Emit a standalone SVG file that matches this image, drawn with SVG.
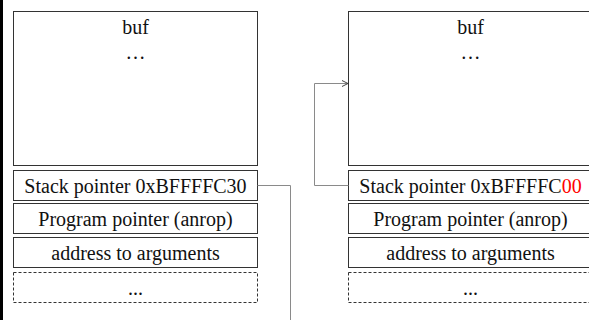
<svg xmlns="http://www.w3.org/2000/svg" width="589" height="320" viewBox="0 0 589 320">
  <style>
    .box { fill: #ffffff; stroke: #333333; stroke-width: 1; }
    .dashed { fill: #ffffff; stroke: #333333; stroke-width: 1; stroke-dasharray: 3 2; }
    .label { font-family: "Liberation Serif", "Times New Roman", serif; font-size: 20px; fill: #111111; text-anchor: middle; }
    .link { fill: none; stroke: #8a8a8a; stroke-width: 1; }
    .hl { fill: #ff0000; }
  </style>
  <defs>
    <marker id="open-arrow" markerWidth="8" markerHeight="8" refX="7" refY="4" orient="auto" markerUnits="userSpaceOnUse">
      <path d="M1,1 L7,4 L1,7" fill="none" stroke="#444444" stroke-width="1"/>
    </marker>
  </defs>

  <rect x="0" y="0" width="3" height="320" fill="#000000"/>

  <!-- left stack frame -->
  <g id="left-buf">
    <rect class="box" x="13.5" y="11.5" width="244" height="154"/>
    <text class="label" x="135.5" y="34">buf</text>
    <text class="label" x="135.5" y="59">…</text>
  </g>
  <g id="left-sp">
    <rect class="box" x="13.5" y="170.5" width="244" height="30"/>
    <text class="label" x="135.5" y="193">Stack pointer 0xBFFFFC30</text>
  </g>
  <g id="left-pp">
    <rect class="box" x="13.5" y="203.5" width="244" height="30"/>
    <text class="label" x="135.5" y="226">Program pointer (anrop)</text>
  </g>
  <g id="left-args">
    <rect class="box" x="13.5" y="237.5" width="244" height="30"/>
    <text class="label" x="135.5" y="260">address to arguments</text>
  </g>
  <g id="left-more">
    <rect class="dashed" x="13.5" y="272.5" width="244" height="30"/>
    <text class="label" x="135.5" y="295">...</text>
  </g>

  <!-- right stack frame -->
  <g id="right-buf">
    <rect class="box" x="348.5" y="11.5" width="244" height="154"/>
    <text class="label" x="470.5" y="34">buf</text>
    <text class="label" x="470.5" y="59">…</text>
  </g>
  <g id="right-sp">
    <rect class="box" x="348.5" y="170.5" width="244" height="30"/>
    <text class="label" x="470.5" y="193">Stack pointer 0xBFFFFC<tspan class="hl">00</tspan></text>
  </g>
  <g id="right-pp">
    <rect class="box" x="348.5" y="203.5" width="244" height="30"/>
    <text class="label" x="470.5" y="226">Program pointer (anrop)</text>
  </g>
  <g id="right-args">
    <rect class="box" x="348.5" y="237.5" width="244" height="30"/>
    <text class="label" x="470.5" y="260">address to arguments</text>
  </g>
  <g id="right-more">
    <rect class="dashed" x="348.5" y="272.5" width="244" height="30"/>
    <text class="label" x="470.5" y="295">...</text>
  </g>

  <!-- connectors -->
  <g id="connectors">
    <path class="link" d="M257.5,185.5 H290.5 V320"/>
    <path class="link" d="M348.5,185.5 H314.5 V83.5 H348" marker-end="url(#open-arrow)"/>
  </g>
</svg>
